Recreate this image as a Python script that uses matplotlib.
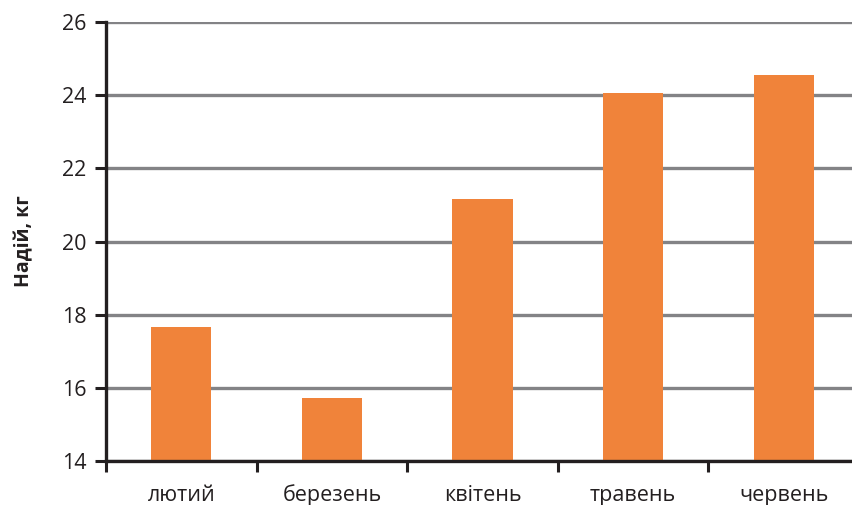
import numpy as np
import matplotlib.pyplot as plt

months = ['лютий', 'березень', 'квітень', 'травень', 'червень']
milk_yield = [17.65, 15.72, 21.17, 24.05, 24.55]
y_ticks = [14, 16, 18, 20, 22, 24, 26]

plt.rcParams['font.family'] = ['Open Sans', 'DejaVu Sans']

fig = plt.figure(figsize=(8.53, 5.05), dpi=100)
ax = fig.add_axes([106 / 853, 1 - 461 / 505, 753 / 853, 439 / 505])

x = np.arange(len(months))
ax.bar(x, milk_yield, width=0.4, color='#F0833A', zorder=3)

ax.set_ylim(14, 26)
ax.set_xlim(-0.5, len(months) - 0.5)
ax.set_yticks(y_ticks)
ax.set_yticklabels([str(t) for t in y_ticks], fontsize=15.5, color='#231f20')

# boundary ticks between months, labels sit under the bars
ax.set_xticks(np.arange(len(months) + 1) - 0.5)
ax.set_xticklabels([])
ax.set_xticks(x, minor=True)
ax.set_xticklabels(months, minor=True, fontsize=15.5, color='#231f20')
ax.tick_params(axis='x', which='minor', length=0, pad=17)
ax.tick_params(axis='x', which='major', length=8, width=2.2, color='#231f20', direction='out')
ax.tick_params(axis='y', length=8, width=2.2, color='#231f20', direction='out', pad=6)

ax.grid(axis='y', color='#838386', linewidth=2.4, zorder=0)
ax.set_axisbelow(True)

for side in ['top', 'right']:
    ax.spines[side].set_visible(False)
for side in ['left', 'bottom']:
    ax.spines[side].set_linewidth(2.4)
    ax.spines[side].set_color('#231f20')
    ax.spines[side].set_zorder(4)

ax.set_ylabel('Надій, кг', fontsize=14, fontweight='bold', color='#231f20', labelpad=20)

fig.savefig('out.png', dpi=100)
